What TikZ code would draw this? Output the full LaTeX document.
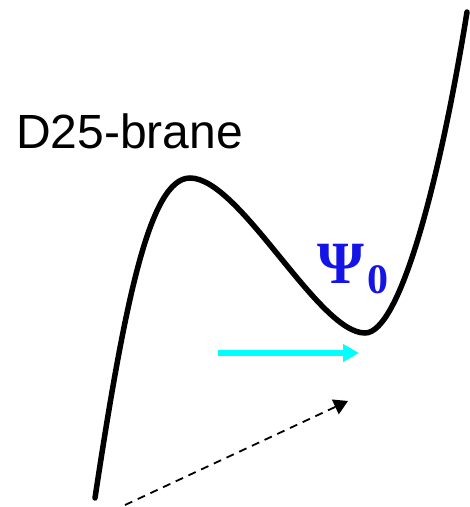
\documentclass[tikz,border=0pt]{standalone}
\usepackage[no-math]{fontspec}
\setmainfont{Liberation Sans}
\newfontfamily\psifont{Liberation Serif}
\usetikzlibrary{arrows.meta, positioning}

\definecolor{psiblue}{RGB}{20, 20, 230}
\definecolor{shiftcyan}{RGB}{0, 255, 255}

\begin{document}
\begin{tikzpicture}[x=1pt, y=-1pt]
    \useasboundingbox (0,0) rectangle (470,507);

    % Potential curve
    \draw[line width=5.5pt, line cap=round]
        (95,498) .. controls (125,300) and (150,178) .. (190,178)
        .. controls (240,178) and (318,333) .. (365,333)
        .. controls (400,333) and (440,180) .. (467,12);

    % Labels
    \node[anchor=base west, inner sep=0pt, font=\fontsize{48}{52}\selectfont]
        (brane) at (16,148) {D25-brane};
    \node[anchor=base west, inner sep=0pt, text=psiblue,
          font=\psifont\bfseries\fontsize{60}{62}\selectfont]
        (psi) at (317,283) {Ψ\hspace{4pt}\raisebox{-10pt}{\fontsize{42}{44}\selectfont 0}};

    % Shift arrows
    \coordinate (cyanstart) at (218,353);
    \coordinate (cyanend) at (359,353);
    \draw[shiftcyan, line width=6pt, -{Triangle[length=16pt, width=17pt]}]
        (cyanstart) -- (cyanend);

    \coordinate (dashstart) at (125,505);
    \coordinate (dashend) at (348,401);
    \draw[line width=1.8pt, dash pattern=on 8pt off 6pt,
          -{Triangle[length=14pt, width=16pt]}]
        (dashstart) -- (dashend);
\end{tikzpicture}
\end{document}
